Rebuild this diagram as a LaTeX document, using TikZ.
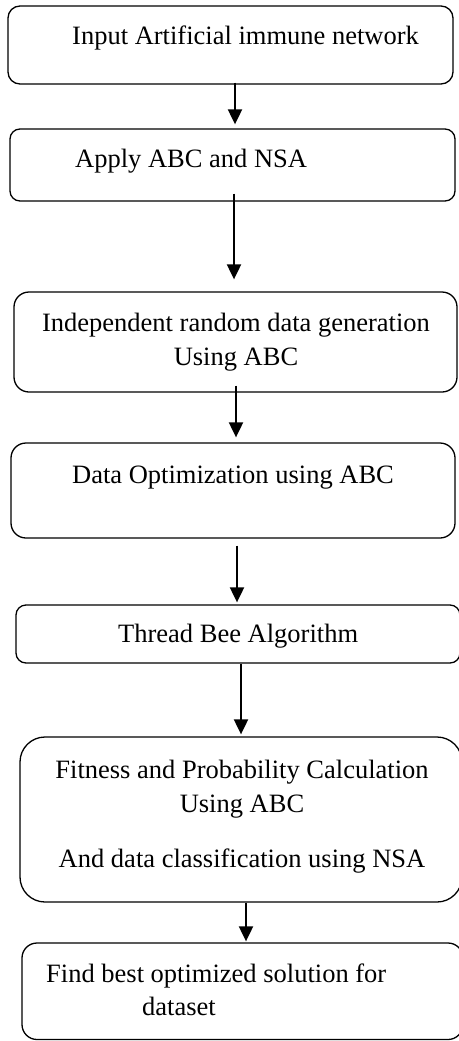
\documentclass[tikz,border=0pt]{standalone}
\usepackage{fontspec}
\setmainfont{Liberation Serif}
\usetikzlibrary{arrows.meta}
\begin{document}
\begin{tikzpicture}[x=1pt,y=-1pt,
  box/.style={draw, line width=1.3pt, inner sep=0pt},
  txt/.style={inner sep=0pt, font=\fontsize{26.5}{32}\selectfont},
  arr/.style={line width=2pt, -{Triangle[width=14pt,length=15pt]}}]
\useasboundingbox (0,0) rectangle (458,1041);

% process boxes
\node[box, minimum width=445pt, minimum height=78pt, rounded corners=12pt] (b1) at (230.5,45) {};
\node[box, minimum width=445pt, minimum height=72pt, rounded corners=10pt] (b2) at (232.5,165) {};
\node[box, minimum width=443pt, minimum height=100pt, rounded corners=15pt] (b3) at (235.5,342) {};
\node[box, minimum width=444pt, minimum height=95pt, rounded corners=15pt] (b4) at (233,490.5) {};
\node[box, minimum width=444pt, minimum height=58pt, rounded corners=10pt] (b5) at (238,634) {};
\node[box, minimum width=442pt, minimum height=165pt, rounded corners=25pt] (b6) at (241,819.5) {};
\node[box, minimum width=441pt, minimum height=96.5pt, rounded corners=15pt] (b7) at (242.5,991.25) {};

% box labels
\node[txt, anchor=base west] (t1) at (72,45) {Input Artificial immune network};
\node[txt, anchor=base west] (t2) at (75,167) {Apply ABC and NSA};
\node[txt, anchor=base] (t3a) at (236,331) {Independent random data generation};
\node[txt, anchor=base] (t3b) at (236,365) {Using ABC};
\node[txt, anchor=base west] (t4) at (72,483) {Data Optimization using ABC};
\node[txt, anchor=base west] (t5) at (118,642) {Thread Bee Algorithm};
\node[txt, anchor=base] (t6a) at (242,778) {Fitness and Probability Calculation};
\node[txt, anchor=base] (t6b) at (242,812) {Using ABC};
\node[txt, anchor=base] (t6c) at (242,867) {And data classification using NSA};
\node[txt, anchor=base west] (t7a) at (46,982) {Find best optimized solution for};
\node[txt, anchor=base west] (t7b) at (142,1015) {dataset};

% flow arrows
\draw[arr] ([xshift=4.5pt,yshift=2pt]b1.south) -- ([xshift=2.5pt,yshift=4pt]b2.north);
\draw[arr] ([xshift=1.5pt,yshift=8pt]b2.south) -- ([xshift=-1.5pt,yshift=12pt]b3.north);
\draw[arr] ([xshift=0.5pt,yshift=7pt]b3.south) -- ([xshift=3pt,yshift=5pt]b4.north);
\draw[arr] ([xshift=4pt,yshift=-7pt]b4.south) -- ([xshift=-1pt,yshift=2pt]b5.north);
\draw[arr] ([xshift=3pt]b5.south) -- ([yshift=2pt]b6.north);
\draw[arr] ([xshift=5pt]b6.south) -- ([xshift=3.5pt,yshift=1pt]b7.north);
\end{tikzpicture}
\end{document}
